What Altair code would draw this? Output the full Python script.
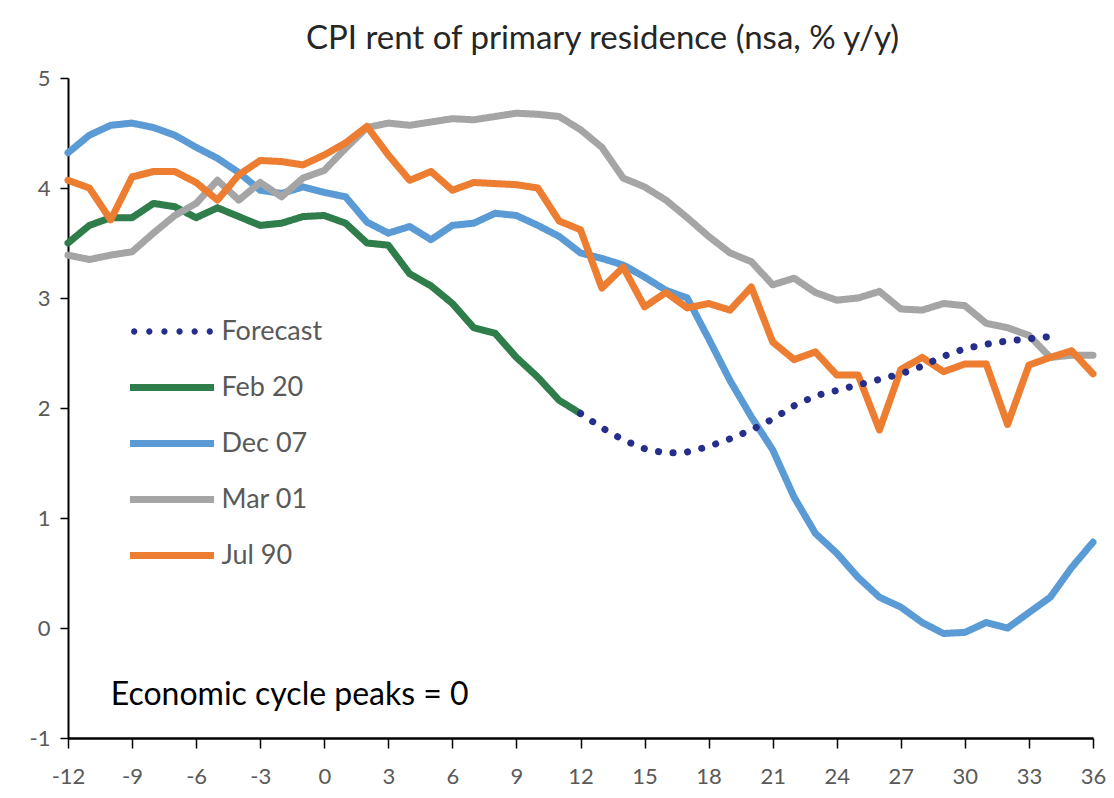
import altair as alt
import pandas as pd

# ---- data ----
months_all = list(range(-12, 37))
months_feb20 = list(range(-12, 13))
months_fc = list(range(12, 35))

feb20 = [3.50, 3.66, 3.73, 3.73, 3.86, 3.83, 3.73, 3.82, 3.74, 3.66, 3.68, 3.74, 3.75,
         3.68, 3.50, 3.48, 3.22, 3.11, 2.95, 2.73, 2.68, 2.46, 2.28, 2.07, 1.95]
dec07 = [4.32, 4.48, 4.57, 4.59, 4.55, 4.48, 4.37, 4.27, 4.14, 3.98, 3.95, 4.01, 3.96,
         3.92, 3.69, 3.59, 3.65, 3.53, 3.66, 3.68, 3.77, 3.75, 3.66, 3.56, 3.41,
         3.36, 3.30, 3.19, 3.07, 3.00, 2.63, 2.25, 1.92, 1.62, 1.19, 0.86, 0.68,
         0.46, 0.28, 0.19, 0.05, -0.05, -0.04, 0.05, 0.00, 0.14, 0.28, 0.55, 0.78]
mar01 = [3.39, 3.35, 3.39, 3.42, 3.59, 3.75, 3.86, 4.07, 3.89, 4.05, 3.92, 4.09, 4.16,
         4.36, 4.55, 4.59, 4.57, 4.60, 4.63, 4.62, 4.65, 4.68, 4.67, 4.65, 4.53,
         4.37, 4.09, 4.01, 3.89, 3.73, 3.56, 3.41, 3.33, 3.12, 3.18, 3.05, 2.98,
         3.00, 3.06, 2.90, 2.89, 2.95, 2.93, 2.77, 2.73, 2.66, 2.46, 2.48, 2.48]
jul90 = [4.07, 4.00, 3.71, 4.10, 4.15, 4.15, 4.05, 3.89, 4.12, 4.25, 4.24, 4.21, 4.30,
         4.41, 4.56, 4.30, 4.07, 4.15, 3.98, 4.05, 4.04, 4.03, 4.00, 3.70, 3.62,
         3.09, 3.28, 2.92, 3.05, 2.91, 2.95, 2.89, 3.10, 2.60, 2.44, 2.51, 2.30,
         2.30, 1.80, 2.35, 2.46, 2.33, 2.40, 2.40, 1.85, 2.39, 2.46, 2.52, 2.31]
forecast = [1.95, 1.82, 1.71, 1.63, 1.59, 1.60, 1.65, 1.72, 1.80, 1.90, 2.02, 2.11,
            2.16, 2.21, 2.26, 2.31, 2.38, 2.47, 2.54, 2.58, 2.61, 2.63, 2.65]

series_names = ["Forecast", "Feb 20", "Dec 07", "Mar 01", "Jul 90"]
series_colors = ["#262E8C", "#2E7D4A", "#5B9BD5", "#A5A5A5", "#ED7D31"]
series_dash = [[0.1, 14.5], [1, 0], [1, 0], [1, 0], [1, 0]]

x_ticks = list(range(-12, 37, 3))
y_ticks = list(range(-1, 6))

title_text = "CPI rent of primary residence (nsa, % y/y)"
note_text = ["Economic cycle peaks = 0"]
note_x = [-10]
note_y = [-0.61]

# ---- build table (draw order: green, blue, gray, orange, forecast) ----
rows = []
for name, xs, ys in [("Feb 20", months_feb20, feb20),
                     ("Dec 07", months_all, dec07),
                     ("Mar 01", months_all, mar01),
                     ("Jul 90", months_all, jul90),
                     ("Forecast", months_fc, forecast)]:
    for x, y in zip(xs, ys):
        rows.append({"series": name, "month": x, "value": y})
df = pd.DataFrame(rows)
note_df = pd.DataFrame({"month": note_x, "value": note_y, "label": note_text})

FONT = "Lato"

# legend glyphs (unit symbol space): a bar for solid series, a row of dots for the forecast
def _dot(cx, r=0.3):
    return f"M{cx - r:.3f},0a{r},{r} 0 1,0 {2 * r},0a{r},{r} 0 1,0 {-2 * r},0"

dots_path = "".join(_dot(c) for c in [-3.6, -2.16, -0.72, 0.72, 2.16, 3.6])
bar_path = "M-4,-0.33H4V0.33H-4Z"
legend_shapes = [dots_path, bar_path, bar_path, bar_path, bar_path]

x_scale = alt.Scale(domain=[-12, 36], nice=False, zero=False)
y_scale = alt.Scale(domain=[-1, 5], nice=False, zero=False)
color_scale = alt.Scale(domain=series_names, range=series_colors)

x_axis = alt.Axis(values=x_ticks, title=None, grid=False, domainColor="black",
                  domainWidth=2.5, tickColor="black", tickWidth=1.5, tickSize=10,
                  labelFontSize=22, labelFont=FONT, labelColor="#595959",
                  labelPadding=18, labelFlush=False, labelExpr="datum.value + ''")
y_axis = alt.Axis(values=y_ticks, title=None, grid=False, domainColor="black",
                  domainWidth=2, tickColor="black", tickWidth=1.5, tickSize=8,
                  labelFontSize=22, labelFont=FONT, labelColor="#595959",
                  labelPadding=10, labelExpr="datum.value + ''")

leg = alt.Legend(
    title=None, orient="none", legendX=90.5, legendY=240,
    symbolSize=441, symbolStrokeWidth=0,
    labelFontSize=27, labelFont=FONT, labelColor="#595959",
    labelOffset=36, rowPadding=28, padding=0, symbolOffset=0,
)

lines = alt.Chart(df).mark_line(strokeWidth=7, strokeCap="round", strokeJoin="round").encode(
    x=alt.X("month:Q", scale=x_scale, axis=x_axis),
    y=alt.Y("value:Q", scale=y_scale, axis=y_axis),
    color=alt.Color("series:N", scale=color_scale, legend=None),
    strokeDash=alt.StrokeDash("series:N", scale=alt.Scale(domain=series_names, range=series_dash),
                              legend=None),
)

# legend-only layer (no rows survive the filter; the legend comes from the scales)
legend_layer = alt.Chart(df).transform_filter("false").mark_point(
    filled=True, opacity=1, strokeWidth=0
).encode(
    x=alt.X("month:Q", scale=x_scale),
    y=alt.Y("value:Q", scale=y_scale),
    color=alt.Color("series:N", scale=color_scale, legend=leg),
    shape=alt.Shape("series:N", scale=alt.Scale(domain=series_names, range=legend_shapes), legend=leg),
)

note = alt.Chart(note_df).mark_text(align="left", baseline="middle", fontSize=32, font=FONT,
                                    color="black").encode(
    x=alt.X("month:Q", scale=x_scale),
    y=alt.Y("value:Q", scale=y_scale),
    text="label:N",
)

chart = alt.layer(lines, legend_layer, note).resolve_legend(
    color="independent", shape="independent", strokeDash="independent"
).properties(
    width=1025, height=660,
    title=alt.TitleParams(title_text, fontSize=33, font=FONT, fontWeight="normal",
                          color="#262626", offset=11, dx=22),
    autosize=alt.AutoSizeParams(type="none"),
    padding={"left": 60, "top": 70, "right": 13, "bottom": 52},
).configure_view(stroke=None)

chart.save("out.html", embed_options={"renderer": "svg", "actions": False})
